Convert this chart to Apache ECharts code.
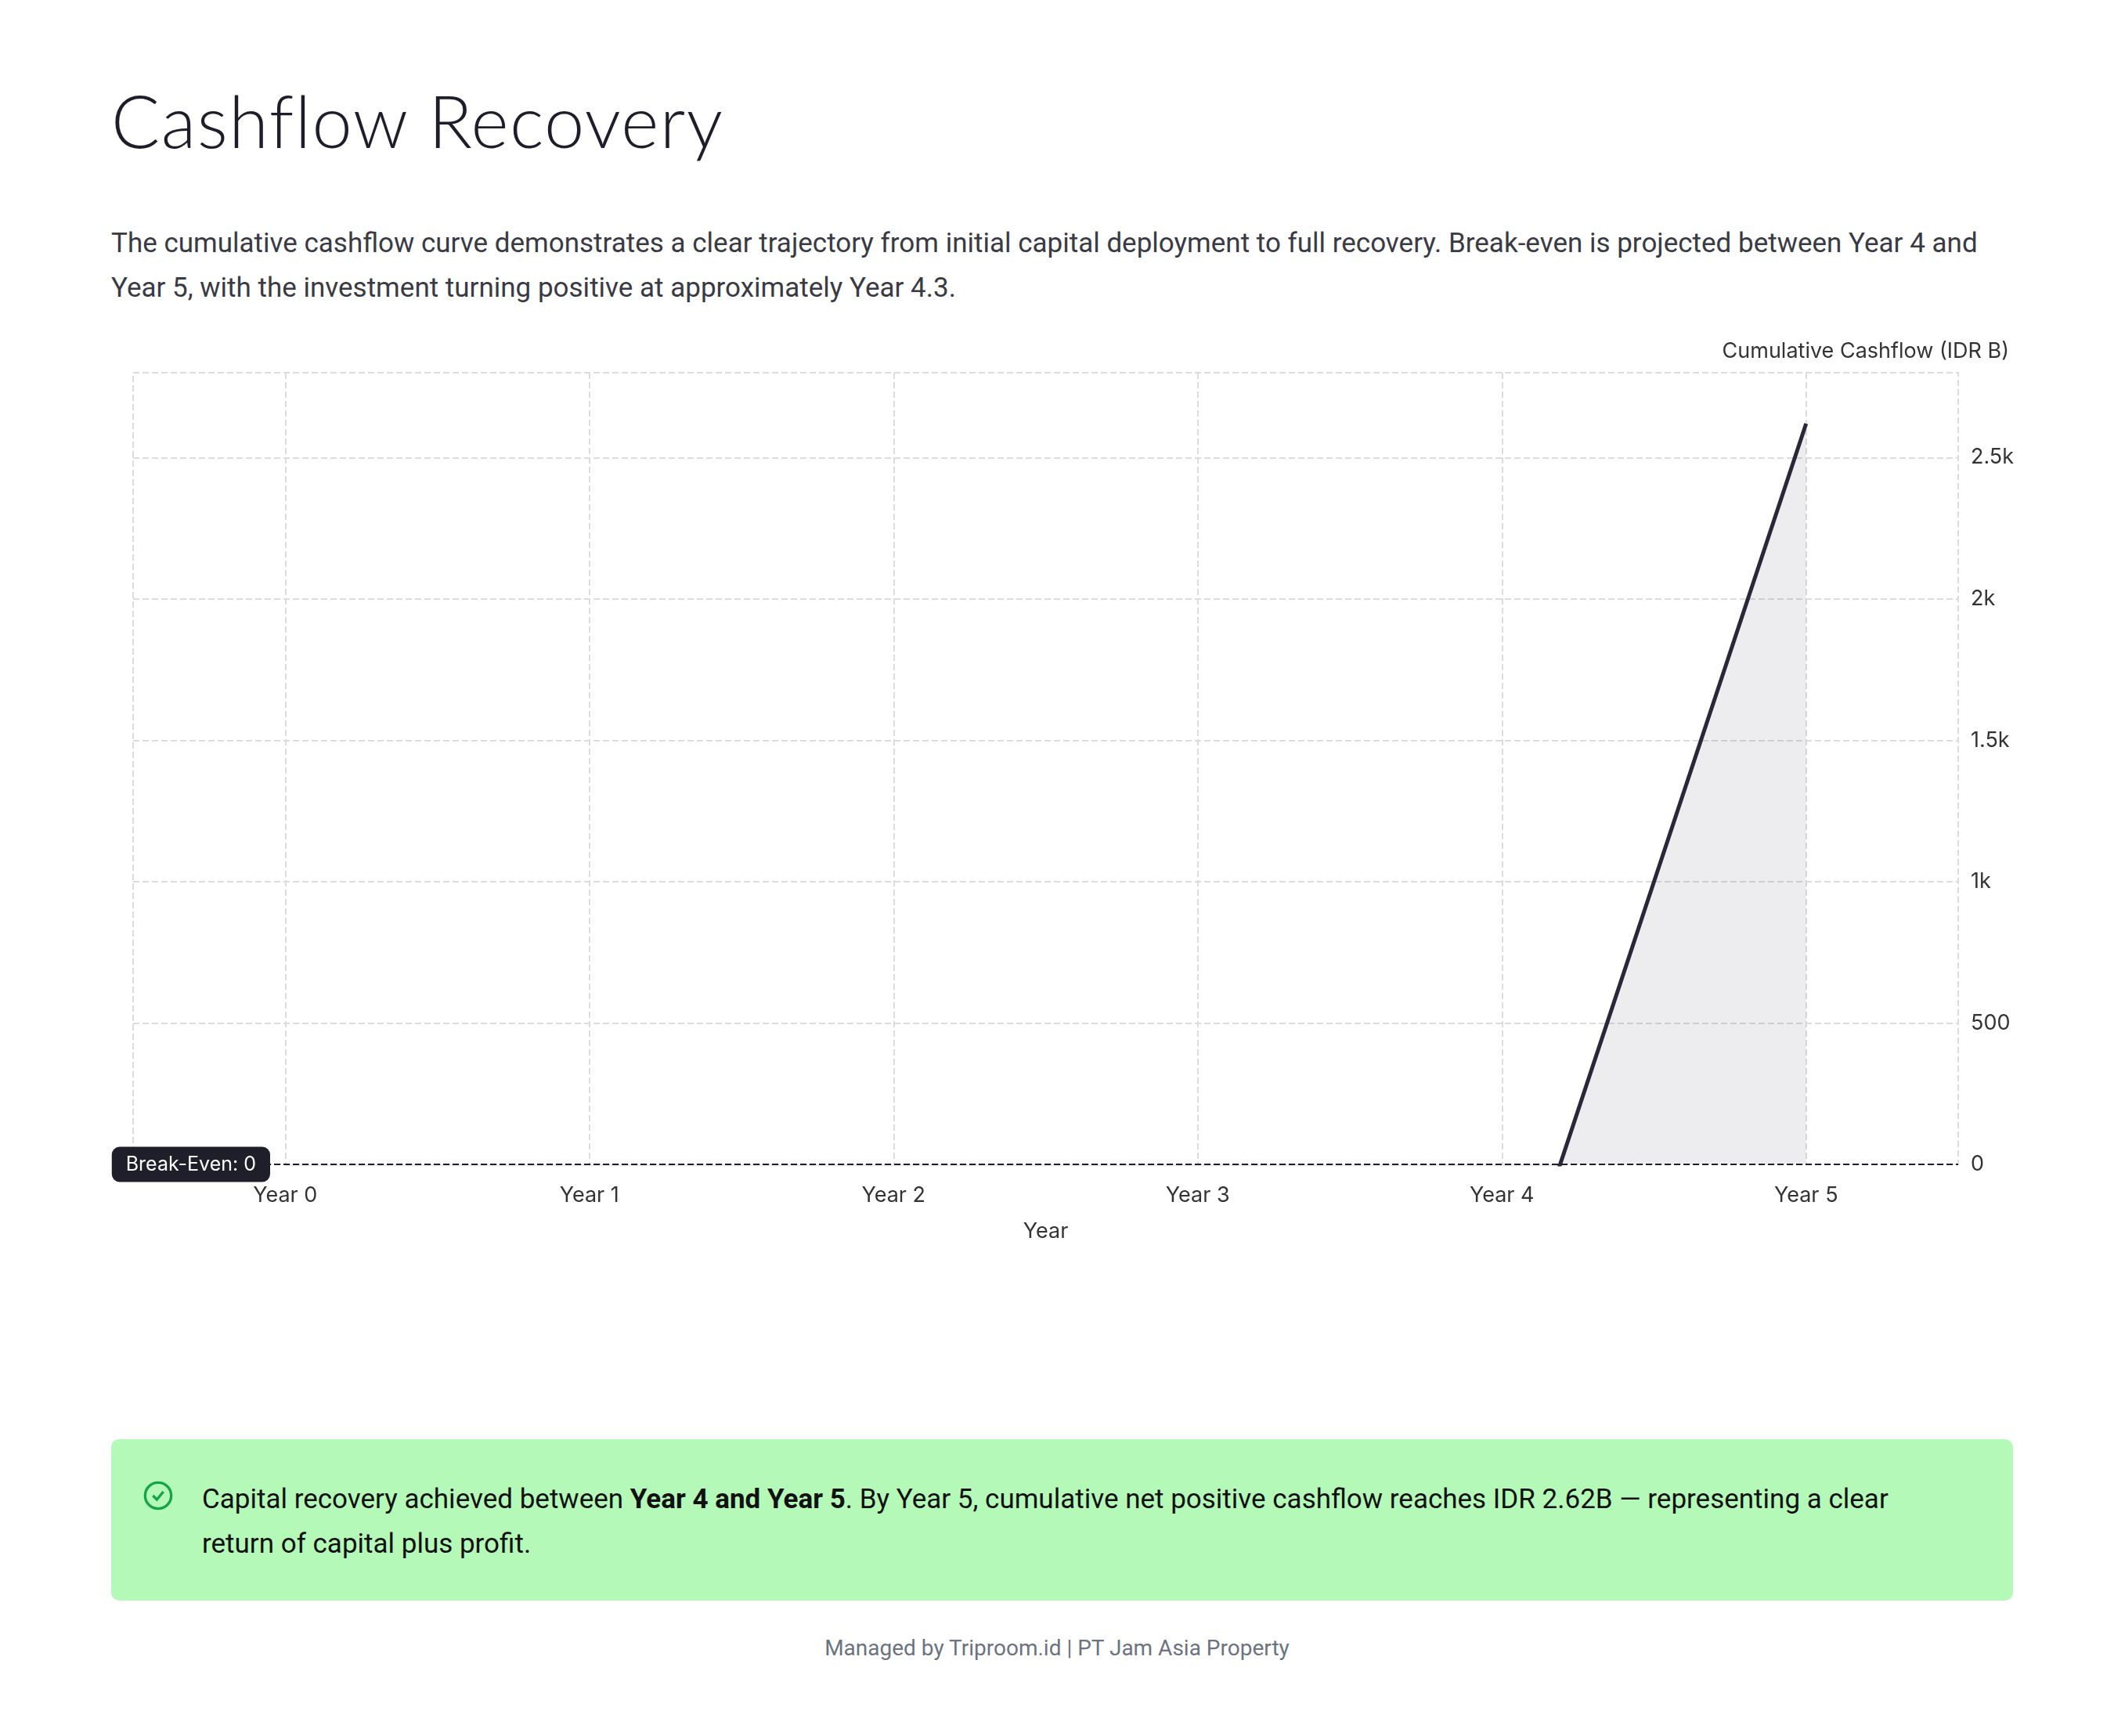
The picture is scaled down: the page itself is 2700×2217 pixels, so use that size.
<!DOCTYPE html>
<html>
<head>
<meta charset="utf-8">
<script src="https://cdn.jsdelivr.net/npm/echarts@6/dist/echarts.min.js"></script>
<style>
  body { margin: 0; background: #fff; font-family: Roboto, sans-serif; width: 2700px; height: 2217px; position: relative; }
  h1 { position: absolute; left: 142px; top: 98px; margin: 0; font-family: Lato, sans-serif; font-weight: 300; font-size: 92px; letter-spacing: 1.5px; color: #1e1e2a; }
  .desc { position: absolute; left: 142px; top: 282px; width: 2440px; margin: 0; font-size: 35px; line-height: 57px; color: #3a3a44; }
  #chart { position: absolute; left: 0; top: 400px; width: 2700px; height: 1200px; }
  .note { position: absolute; left: 142px; top: 1838px; width: 2429px; height: 206px; background: #b4f9b8; border-radius: 10px; box-sizing: border-box; padding: 48px 110px 0 116px; font-size: 35px; line-height: 57px; color: #111; }
  .note svg { position: absolute; left: 40px; top: 52px; }
  .foot { position: absolute; left: 0; width: 2700px; top: 2088px; text-align: center; font-size: 28px; color: #6b7280; }
</style>
</head>
<body>
<h1>Cashflow Recovery</h1>
<p class="desc">The cumulative cashflow curve demonstrates a clear trajectory from initial capital deployment to full recovery. Break-even is projected between Year 4 and Year 5, with the investment turning positive at approximately Year 4.3.</p>
<div id="chart"></div>
<div class="note">
  <svg width="40" height="40" viewBox="0 0 24 24" fill="none" stroke="#16a34a" stroke-width="2"><circle cx="12" cy="12" r="10"/><path d="M8 12l3 3 5-6"/></svg>
  Capital recovery achieved between <b>Year 4 and Year 5</b>. By Year 5, cumulative net positive cashflow reaches IDR 2.62B — representing a clear return of capital plus profit.
</div>
<div class="foot">Managed by Triproom.id | PT Jam Asia Property</div>
<script>
var years = [0, 1, 2, 3, 4, 5];
var yearLabels = ['Year 0', 'Year 1', 'Year 2', 'Year 3', 'Year 4', 'Year 5'];
var cumulative = [-6500, -5400, -4200, -3000, -620, 2620];
var breakEven = 0;

var points = [];
for (var i = 0; i < years.length; i++) {
    points.push([years[i], cumulative[i]]);
}

var chart = echarts.init(document.getElementById('chart'));
chart.setOption({
    animation: false,
    title: {
        text: 'Cumulative Cashflow (IDR B)', right: 129, top: 30,
        textStyle: { fontSize: 27, color: '#333', fontFamily: 'Inter', fontWeight: 'normal' }
    },
    grid: {
        left: 170, right: 199, top: 76, bottom: 113,
        show: true, borderColor: '#dcdcdf', borderWidth: 2,
        borderType: 'dashed'
    },
    xAxis: {
        type: 'value', min: -0.5, max: 5.5, interval: 0.5,
        name: 'Year', nameLocation: 'middle', nameGap: 72,
        nameTextStyle: { fontSize: 27, color: '#333', fontFamily: 'Inter' },
        axisLine: { show: false }, axisTick: { show: false },
        axisLabel: {
            fontSize: 27, color: '#333', fontFamily: 'Inter', margin: 26,
            formatter: function (v) {
                return Number.isInteger(v) ? yearLabels[v] : '';
            }
        },
        splitLine: { lineStyle: { color: ['rgba(0,0,0,0)', '#dcdcdf'], type: 'dashed', width: 2 } }
    },
    yAxis: {
        type: 'value', position: 'right', min: 0, max: 2800, interval: 500,
        axisLine: { show: false }, axisTick: { show: false },
        axisLabel: {
            fontSize: 27, color: '#333', fontFamily: 'Inter', margin: 16, showMaxLabel: false,
            formatter: function (v) { return v >= 1000 ? (v / 1000) + 'k' : v; }
        },
        splitLine: { lineStyle: { color: '#dcdcdf', type: 'dashed', width: 2 } }
    },
    series: [{
        type: 'line',
        data: points,
        symbol: 'none',
        lineStyle: { color: '#2a2838', width: 5 },
        areaStyle: { color: 'rgba(42,40,56,0.12)' },
        markLine: {
            symbol: 'none',
            silent: true,
            lineStyle: { color: '#1e1e2a', type: 'dashed', width: 2 },
            label: {
                position: 'start', formatter: 'Break-Even: {c}',
                backgroundColor: '#1e1f2b', color: '#fff', fontSize: 25,
                fontFamily: 'Inter', padding: [10, 18], borderRadius: 10, distance: -175
            },
            data: [{ yAxis: breakEven }]
        }
    }]
});
</script>
</body>
</html>
